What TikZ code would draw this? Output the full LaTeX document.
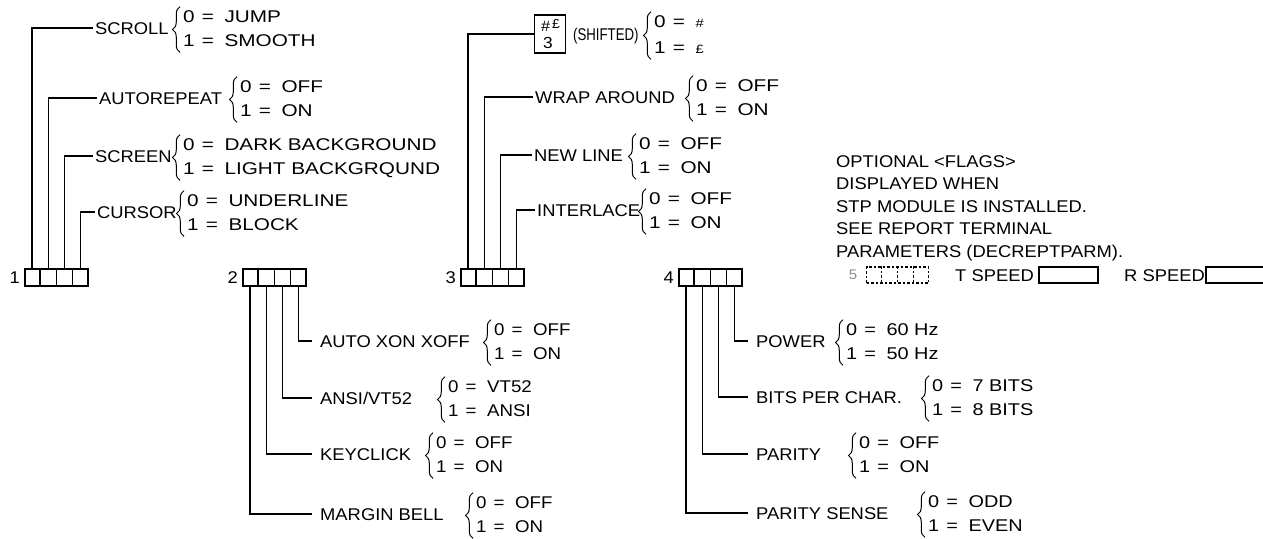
\documentclass[tikz,border=0pt]{standalone}
\usepackage{fontspec}
\usepackage{graphicx}
\setmainfont{Liberation Sans}[FakeStretch=1.08]
\newfontfamily\optA{Liberation Sans}[FakeStretch=1.22]
\newfontfamily\optB{Liberation Sans}[FakeStretch=1.10]
\newfontfamily\optC{Liberation Sans}[FakeStretch=1.17]
\usetikzlibrary{decorations.pathreplacing,calc}
\newcommand\fs{\fontsize{17}{20}\selectfont}
\newcommand\eqs{\hspace{0.42em}=\hspace{0.62em}}
\newcommand\labgap{2pt}
\newcommand\optfam{\optA}
\tikzset{
  conn/.style={line width=1.25pt},
  boxline/.style={line width=1.7pt},
  bitbox/.style={draw, line width=1.7pt, minimum width=63pt, minimum height=17pt, inner sep=0pt, anchor=north west},
  lab/.style={anchor=west, inner ysep=0pt, inner xsep=#1, font=\fs, text height=12.2pt, text depth=0pt},
  lab/.default=2pt,
  optv/.style={anchor=west, inner sep=0pt, font=\fs\optfam, text height=12.2pt, text depth=0pt},
  num/.style={anchor=east, inner sep=0pt, font=\fs, text height=12.2pt, text depth=0pt},
  note/.style={anchor=west, inner sep=0pt, font=\fs, text height=12.2pt, text depth=0pt},
  brc/.style={decorate, decoration={brace, amplitude=7.5pt}, line width=1pt},
  keyglyph/.style={inner sep=0pt, font=\fontsize{#1}{#1}\selectfont},
}
\newcommand\optitem[8]{%
  \node[lab=\labgap] (#1) at (#3,#4) {#5};
  \draw[conn] (#2) |- (#1.west);
  \node[optv] (#1a) at (#6,#4-12) {0\eqs #7};
  \node[optv] (#1b) at (#6,#4+12) {1\eqs #8};
  \draw[brc] ($(#1b.south west)+(-3,6)$) -- ($(#1a.north west)+(-3,-3)$);
}
\newcommand\bitgroup[3]{%
  \node[bitbox] (#1) at (#2,268) {};
  \foreach \k in {1,2,3}{\draw[boxline] ($(#1.north west)!\k/4!(#1.north east)$) -- ($(#1.south west)!\k/4!(#1.south east)$);}
  \node[num] (#1n) at ($(#1.west)+(-4,0)$) {#3};
  \foreach \k in {1,2,3,4}{%
    \coordinate (#1t\k) at ($(#1.north west)!{(\k-0.5)/4}!(#1.north east)$);
    \coordinate (#1b\k) at ($(#1.south west)!{(\k-0.5)/4}!(#1.south east)$);}
}
\begin{document}
\begin{tikzpicture}[x=1pt,y=-1pt]
\useasboundingbox (0,0) rectangle (1263,538);
% bit boxes
\bitgroup{b1}{24}{1}
\bitgroup{b2}{242}{2}
\bitgroup{b3}{460}{3}
\bitgroup{b4}{678}{4}
% group 1
\optitem{scroll}{b1t1}{93}{28}{SCROLL}{183}{JUMP}{SMOOTH}
\optitem{autorep}{b1t2}{97}{98}{AUTOREPEAT}{240}{OFF}{ON}
\optitem{screen}{b1t3}{93}{156}{SCREEN}{183}{DARK BACKGROUND}{LIGHT BACKGRQUND}
\optitem{cursor}{b1t4}{95}{212}{CURSOR}{187}{UNDERLINE}{BLOCK}
% group 3
\node[draw, line width=1.2pt, minimum width=31pt, minimum height=38pt, inner sep=0pt, anchor=west] (key) at (534,34) {};
\node[keyglyph=15] (keyhash) at (545.5,26) {\#};
\node[keyglyph=13] (keypound) at (556,24) {£};
\node[keyglyph=16] (keythree) at (548,43) {3};
\draw[conn] (b3t1) |- (key.west);
\node[lab] (shifted) at (571,34) {\scalebox{0.72}[1]{(SHIFTED)}};
\node[optv] (shifteda) at (654,21) {0\eqs{\fontsize{12}{12}\selectfont\#}};
\node[optv] (shiftedb) at (654,47) {1\eqs{\fontsize{12}{12}\selectfont £}};
\draw[brc] ($(shiftedb.south west)+(-3,6)$) -- ($(shifteda.north west)+(-3,-3)$);
\optitem{wrap}{b3t2}{533}{97}{WRAP AROUND}{696}{OFF}{ON}
\optitem{newline}{b3t3}{532}{155}{NEW LINE}{639}{OFF}{ON}
\optitem{interlace}{b3t4}{535}{210}{INTERLACE}{649}{OFF}{ON}
% group 2
\renewcommand\labgap{8pt}
\renewcommand\optfam{\optB}
\optitem{xon}{b2b4}{312}{341}{AUTO XON XOFF}{494}{OFF}{ON}
\optitem{ansi}{b2b3}{312}{398}{ANSI/VT52}{448}{VT52}{ANSI}
\optitem{keyclick}{b2b2}{312}{454}{KEYCLICK}{436}{OFF}{ON}
\optitem{margin}{b2b1}{312}{514}{MARGIN BELL}{476}{OFF}{ON}
% group 4
\renewcommand\optfam{\optC}
\optitem{power}{b4b4}{748}{341}{POWER}{846}{60 Hz}{50 Hz}
\optitem{bits}{b4b3}{748}{397}{BITS PER CHAR.}{932}{7 BITS}{8 BITS}
\optitem{parity}{b4b2}{748}{454}{PARITY}{859}{OFF}{ON}
\optitem{sense}{b4b1}{748}{513}{PARITY SENSE}{928}{ODD}{EVEN}
% notes
\node[note] (n1) at (836,161) {OPTIONAL <FLAGS>};
\node[note] (n2) at (836,183.5) {DISPLAYED WHEN};
\node[note] (n3) at (836,206) {STP MODULE IS INSTALLED.};
\node[note] (n4) at (836,228.5) {SEE REPORT TERMINAL};
\node[note] (n5) at (836,251) {PARAMETERS (DECREPTPARM).};
% bottom row
\node[inner sep=0pt, font=\fontsize{14}{14}\selectfont, text=black!45] (five) at (853,275) {5};
\node[draw, line width=1.2pt, dash pattern=on 2.5pt off 2pt, minimum width=62pt, minimum height=16pt, inner sep=0pt, anchor=west] (b5) at (866,275) {};
\foreach \k in {1,2,3}{\draw[line width=1.2pt, dash pattern=on 2.5pt off 2pt] ($(b5.north west)!\k/4!(b5.north east)$) -- ($(b5.south west)!\k/4!(b5.south east)$);}
\node[note] (tspeed) at (955,275) {T SPEED};
\node[draw, line width=1.7pt, minimum width=59pt, minimum height=16pt, inner sep=0pt, anchor=west] (tbox) at (1038,275) {};
\node[note] (rspeed) at (1124,275) {R SPEED};
\node[draw, line width=1.7pt, minimum width=75pt, minimum height=16pt, inner sep=0pt, anchor=west] (rbox) at (1205,275) {};
\end{tikzpicture}
\end{document}
